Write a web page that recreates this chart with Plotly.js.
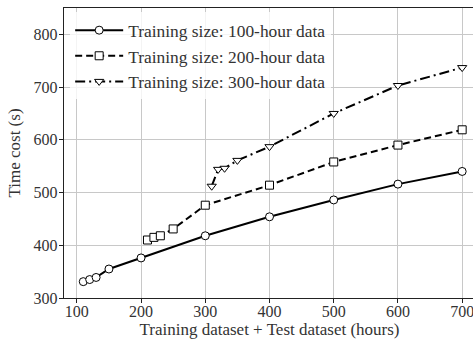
<!DOCTYPE html>
<html>
<head>
<meta charset="utf-8">
<script src="https://cdn.plot.ly/plotly-3.0.1.min.js"></script>
<style>
html, body { margin: 0; padding: 0; overflow: hidden; background: #fff; }
#chart { width: 480px; height: 343px; }
</style>
</head>
<body>
<div id="chart"></div>
<script>
const seriesNames = [
  "Training size: 100-hour data",
  "Training size: 200-hour data",
  "Training size: 300-hour data"
];
const x100 = [110, 120, 130, 150, 200, 300, 400, 500, 600, 700];
const y100 = [331, 335, 339, 355, 376, 418, 454, 486, 516, 540];
const x200 = [210, 220, 230, 250, 300, 400, 500, 600, 700];
const y200 = [410, 415, 418, 431, 476, 514, 558, 590, 619];
const x300 = [310, 320, 330, 350, 400, 500, 600, 700];
const y300 = [512, 544, 546, 561, 587, 650, 703, 737];
const xTicks = [100, 200, 300, 400, 500, 600, 700];
const yTicks = [300, 400, 500, 600, 700, 800];

const font = "'Liberation Serif', 'Times New Roman', serif";

const traces = [
  {x: x100, y: y100, name: seriesNames[0], mode: "lines+markers",
   line: {color: "#000", width: 2, dash: "solid"},
   marker: {symbol: "circle", size: 8, color: "#fff", line: {color: "#000", width: 1}}},
  {x: x200, y: y200, name: seriesNames[1], mode: "lines+markers",
   line: {color: "#000", width: 2, dash: "7px,4px"},
   marker: {symbol: "square", size: 8, color: "#fff", line: {color: "#000", width: 1}}},
  {x: x300, y: y300, name: seriesNames[2], mode: "lines+markers",
   line: {color: "#000", width: 2, dash: "10px,4px,2px,4px"},
   marker: {symbol: "triangle-down", size: 8, color: "#fff", line: {color: "#000", width: 1}}}
];

const layout = {
  width: 480, height: 343,
  margin: {l: 64, r: 5, t: 8, b: 45},
  paper_bgcolor: "#fff", plot_bgcolor: "#fff",
  font: {family: font, size: 16, color: "#333"},
  showlegend: true,
  legend: {
    x: 0.015, y: 0.985, xanchor: "left", yanchor: "top",
    bgcolor: "rgba(255,255,255,0.8)", borderwidth: 0,
    itemwidth: 48,
    font: {family: font, size: 17.4, color: "#333"}
  },
  xaxis: {
    range: [80, 720], tickvals: xTicks, ticktext: xTicks.map(String),
    showgrid: true, gridcolor: "#c8c8c8", gridwidth: 1,
    zeroline: false, showline: true, linecolor: "#222", linewidth: 1.2, mirror: true,
    ticks: "outside", ticklen: 4, tickcolor: "#222", ticklabelstandoff: -5,
    tickfont: {family: font, size: 16, color: "#333"},
    title: {text: "Training dataset + Test dataset (hours)", font: {family: font, size: 17, color: "#333"}, standoff: 2}
  },
  yaxis: {
    range: [300, 850], tickvals: yTicks, ticktext: yTicks.map(String),
    showgrid: true, gridcolor: "#c8c8c8", gridwidth: 1,
    zeroline: false, showline: true, linecolor: "#222", linewidth: 1.2, mirror: true,
    ticks: "outside", ticklen: 4, tickcolor: "#222", ticklabelstandoff: -2,
    tickfont: {family: font, size: 16, color: "#333"},
    title: {text: "Time cost (s)", font: {family: font, size: 17, color: "#333"}, standoff: 8}
  }
};

Plotly.newPlot("chart", traces, layout, {displayModeBar: false, staticPlot: true});
</script>
</body>
</html>
